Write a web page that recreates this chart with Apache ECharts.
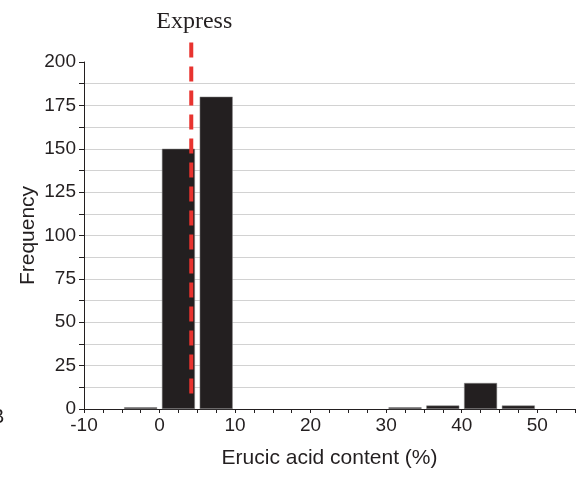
<!DOCTYPE html>
<html>
<head>
<meta charset="utf-8">
<script src="https://cdn.jsdelivr.net/npm/echarts@6/dist/echarts.min.js"></script>
<style>
  html, body { margin: 0; padding: 0; background: #fff; }
  #chart { width: 582px; height: 478px; }
</style>
</head>
<body>
<div id="chart"></div>
<script>
// Histogram bins (centre of each 5 % wide bin) and their counts
const binCenters = [-2.5, 2.5, 7.5, 32.5, 37.5, 42.5, 47.5];
const frequencies = [1, 150, 180, 1, 2, 15, 2];

// Reference cultivar marker
const expressValue = 4.2;
const expressLabel = 'Express';
const expressSpan = [9, 212];

const yTickLabels = [0, 25, 50, 75, 100, 125, 150, 175, 200];
const xTickLabels = [-10, 0, 10, 20, 30, 40, 50];

const chart = echarts.init(document.getElementById('chart'));
const font = 'Liberation Sans, Arial, sans-serif';
const ink = '#231f20';
const panelLetter = {
  type: 'text',
  left: -9, top: 407,
  style: { text: 'B', fontFamily: font, fontSize: 20, fill: ink }
};

chart.setOption({
  animation: false,
  backgroundColor: '#ffffff',
  grid: { left: 84, right: 7, top: 62, bottom: 69 },
  xAxis: {
    type: 'value',
    min: -10, max: 55, interval: 2.5,
    name: 'Erucic acid content (%)',
    nameLocation: 'middle', nameGap: 39,
    nameTextStyle: { fontFamily: font, fontSize: 21, color: ink },
    axisLine: { show: true, onZero: false, lineStyle: { color: ink, width: 1 } },
    axisTick: { show: true, length: 4, lineStyle: { color: ink } },
    axisLabel: {
      fontFamily: font, fontSize: 19, color: ink, margin: 7,
      formatter: v => xTickLabels.includes(v) ? String(v) : ''
    },
    splitLine: { show: false }
  },
  yAxis: {
    type: 'value',
    min: 0, max: 200, interval: 12.5,
    name: 'Frequency',
    nameLocation: 'middle', nameGap: 45,
    nameMoveOverlap: false,
    nameTextStyle: { fontFamily: font, fontSize: 21, color: ink },
    axisLine: { show: true, onZero: false, lineStyle: { color: ink, width: 1 } },
    axisTick: { show: true, length: 5, lineStyle: { color: ink } },
    axisLabel: {
      fontFamily: font, fontSize: 19, color: ink, margin: 8,
      formatter: v => yTickLabels.includes(v) ? String(v) : ''
    },
    splitLine: { show: true, showMaxLine: false, showMinLine: false, lineStyle: { color: '#d2d2d2', width: 1 } }
  },
  series: [
    {
      type: 'bar',
      data: binCenters.map((c, i) => [c, frequencies[i]]),
      barWidth: 33,
      itemStyle: { color: ink, borderColor: '#8a8a8a', borderWidth: 0.5 },
      z: 2
    },
    {
      type: 'line',
      data: expressSpan.map(y => [expressValue, y]),
      clip: false,
      symbol: 'none',
      lineStyle: { color: '#e8332f', width: 4, type: [15, 9] },
      z: 3
    }
  ],
  graphic: [panelLetter]
});

// Cultivar label placed above the top of the marker line
const lineTop = chart.convertToPixel({ xAxisIndex: 0, yAxisIndex: 0 }, [expressValue, expressSpan[1]]);
chart.setOption({
  graphic: [
    panelLetter,
    {
      type: 'text',
      x: lineTop[0] + 3, y: lineTop[1] - 7,
      style: {
        text: expressLabel, fontFamily: 'Liberation Serif, Times New Roman, serif',
        fontSize: 24, fill: ink, align: 'center', verticalAlign: 'bottom'
      }
    }
  ]
});
</script>
</body>
</html>
